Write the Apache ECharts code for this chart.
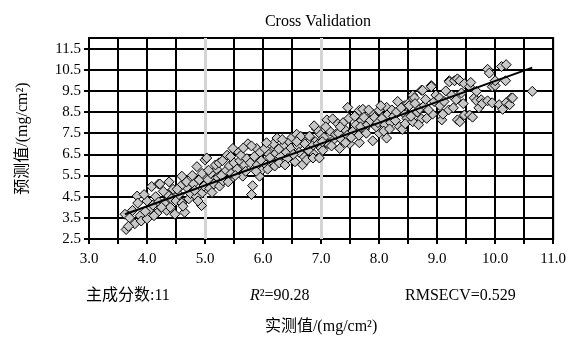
<!DOCTYPE html>
<html>
<head>
<meta charset="utf-8">
<script src="https://cdn.jsdelivr.net/npm/echarts@6/dist/echarts.min.js"></script>
<style>
  html, body { margin: 0; padding: 0; background: #fff; }
  #main { width: 569px; height: 340px; }
</style>
</head>
<body>
<div id="main"></div>
<script>
var dom = document.getElementById("main");
var myChart = echarts.init(dom);

var measured = [
    3.62, 3.64, 3.70, 3.79, 3.75, 3.83, 3.84, 3.68, 3.88, 3.90,
    4.00, 4.00, 4.08, 3.95, 4.05, 4.10, 4.17, 4.15, 4.20, 4.12, 3.97, 4.20,
    4.22, 4.30, 4.34, 4.35, 4.40, 4.45, 4.48, 4.42, 4.28, 4.38, 4.50, 4.25,
    4.60, 4.65, 4.55, 4.60, 4.70, 4.72, 4.58, 4.68, 4.75, 4.62, 4.52,
    4.86, 4.94, 4.94, 4.80, 4.85, 4.90, 4.98, 4.82, 4.78, 4.95, 4.88, 5.00,
    5.03, 5.08, 5.05, 5.10, 5.15, 5.20, 5.12, 5.22, 5.18, 5.25, 5.06, 5.24,
    5.31, 5.38, 5.48, 5.48, 5.35, 5.42, 5.30, 5.45, 5.40, 5.50, 5.28, 5.44,
    5.65, 5.74, 5.55, 5.60, 5.58, 5.68, 5.70, 5.62, 5.72, 5.52, 5.66,
    5.80, 5.82, 5.89, 5.94, 5.99, 5.78, 5.85, 5.90, 5.95, 5.88, 5.80, 5.97,
    6.03, 6.05, 6.10, 6.15, 6.20, 6.08, 6.18, 6.24, 6.12, 6.22, 6.06, 6.20,
    6.30, 6.35, 6.40, 6.28, 6.45, 6.42, 6.33, 6.48, 6.38, 6.50, 6.27,
    6.55, 6.58, 6.68, 6.68, 6.68, 6.60, 6.62, 6.72, 6.52, 6.65, 6.75, 6.58,
    6.80, 6.86, 6.86, 6.97, 6.97, 6.90, 6.85, 6.95, 6.78, 6.92, 7.00, 6.88,
    7.03, 7.10, 7.20, 7.05, 7.12, 7.15, 7.22, 7.08, 7.18, 7.25, 7.02,
    7.29, 7.32, 7.46, 7.49, 7.30, 7.35, 7.40, 7.45, 7.38, 7.42, 7.48, 7.33,
    7.66, 7.72, 7.66, 7.55, 7.60, 7.65, 7.70, 7.58, 7.75, 7.52, 7.68, 7.74,
    7.89, 7.89, 8.00, 8.00, 7.80, 7.85, 7.95, 7.78, 7.92, 7.98, 7.82,
    8.13, 8.13, 8.05, 8.10, 8.15, 8.20, 8.22, 8.08, 8.18, 8.25, 8.03,
    8.30, 8.35, 8.40, 8.44, 8.44, 8.28, 8.38, 8.48, 8.32, 8.50, 8.45,
    8.52, 8.58, 8.58, 8.61, 8.66, 8.73, 8.73, 8.75, 8.55, 8.62, 8.70, 8.68,
    8.78, 8.90, 8.90, 8.92, 8.80, 8.85, 8.95, 8.82, 8.98,
    9.04, 9.08, 9.10, 9.21, 9.21, 9.05, 9.15, 9.20, 9.12, 9.25,
    9.30, 9.33, 9.35, 9.35, 9.39, 9.39, 9.47, 9.47, 9.28, 9.42, 9.45,
    9.56, 9.56, 9.61, 9.64, 9.68, 9.68, 9.58, 9.72,
    9.76, 9.78, 9.87, 9.87, 9.90, 9.95, 9.95, 10.00, 10.00,
    10.07, 10.11, 10.13, 10.18, 10.19, 10.19, 10.25, 10.28, 10.30, 10.64
];
var predicted = [
    3.67, 2.95, 3.50, 3.22, 3.85, 4.53, 4.20, 3.10, 3.60, 3.35,
    3.45, 4.30, 4.98, 4.60, 3.90, 4.10, 3.72, 4.50, 5.10, 3.60, 3.80, 4.25,
    5.10, 4.20, 3.85, 4.60, 4.00, 4.85, 3.67, 4.40, 4.75, 5.20, 4.30, 4.00,
    5.47, 3.76, 4.60, 4.20, 4.90, 4.40, 5.00, 5.20, 4.65, 4.05, 4.85,
    5.92, 4.08, 4.66, 5.10, 4.50, 5.30, 5.00, 4.80, 5.50, 5.60, 4.30, 6.24,
    6.33, 4.89, 5.30, 5.60, 5.10, 5.80, 4.70, 5.40, 6.00, 5.00, 5.75, 6.10,
    5.25, 6.46, 6.78, 5.43, 5.70, 5.95, 6.20, 5.60, 5.20, 6.10, 5.50, 6.40,
    5.47, 7.00, 5.80, 6.20, 6.60, 6.00, 5.70, 6.45, 6.30, 5.50, 6.80,
    4.60, 5.02, 6.78, 5.47, 5.79, 6.10, 6.40, 6.00, 6.60, 5.70, 6.90, 6.20,
    6.78, 6.00, 6.50, 6.20, 6.80, 5.80, 7.00, 7.27, 6.35, 6.55, 7.05, 5.95,
    6.40, 6.90, 6.60, 6.10, 7.10, 6.30, 7.20, 6.80, 6.00, 7.30, 6.75,
    6.15, 7.45, 6.01, 6.46, 7.23, 6.90, 6.60, 7.00, 6.50, 7.35, 6.24, 7.10,
    7.36, 6.55, 6.33, 7.50, 6.33, 7.10, 6.90, 7.00, 6.70, 7.70, 6.80, 7.85,
    6.69, 8.13, 8.18, 7.30, 7.00, 7.60, 7.20, 7.80, 6.90, 7.45, 7.10,
    7.95, 6.78, 8.72, 7.00, 7.50, 7.20, 7.70, 7.40, 8.00, 7.05, 8.20, 7.80,
    8.58, 8.63, 7.05, 7.60, 7.90, 7.40, 8.10, 8.30, 7.70, 7.30, 7.80, 8.25,
    8.40, 7.14, 8.58, 7.50, 7.90, 8.10, 7.80, 7.50, 8.25, 8.00, 8.60,
    7.27, 8.72, 8.20, 7.90, 8.40, 8.00, 8.60, 7.60, 7.70, 8.30, 8.80,
    8.50, 7.81, 7.68, 8.40, 8.80, 8.10, 8.70, 8.20, 9.00, 8.90, 7.95,
    8.80, 9.30, 8.04, 9.17, 8.50, 8.18, 9.53, 9.53, 8.30, 8.90, 8.65, 7.90,
    8.80, 9.75, 9.70, 8.40, 9.10, 8.60, 9.00, 8.20, 9.30,
    9.17, 8.13, 8.40, 9.98, 9.93, 8.80, 9.50, 8.60, 9.00, 9.30,
    9.98, 9.08, 8.13, 10.07, 8.04, 9.98, 9.84, 8.36, 8.70, 9.40, 8.90,
    9.70, 8.36, 8.26, 9.17, 9.48, 9.03, 9.90, 8.70,
    9.08, 8.90, 10.52, 9.03, 10.34, 9.70, 8.94, 9.75, 9.98,
    8.85, 10.65, 8.63, 9.98, 10.74, 8.94, 8.85, 9.17, 9.17, 9.48
];
// 回归线两端
var fitX = [3.62, 10.64];
var fitY = [3.67, 10.60];

var xTicks = ['3.0', '4.0', '5.0', '6.0', '7.0', '8.0', '9.0', '10.0', '11.0'];
var yTicks = ['2.5', '3.5', '4.5', '5.5', '6.5', '7.5', '8.5', '9.5', '10.5', '11.5'];
var grayLines = [5.0, 7.0];

var points = measured.map(function (x, i) { return [x, predicted[i]]; });
var fitLine = fitX.map(function (x, i) { return [x, fitY[i]]; });

var serif = '"Liberation Serif", "Noto Sans CJK SC", serif';

option = {
    backgroundColor: '#fff',
    animation: false,
    title: {
        text: 'Cross Validation',
        left: 313,
        textAlign: 'center',
        top: 9,
        textStyle: { fontFamily: serif, fontSize: 16, fontWeight: 'normal', color: '#000' }
    },
    grid: {
        left: 89, right: 14, top: 38, bottom: 92,
        show: true, borderColor: '#000', borderWidth: 2
    },
    xAxis: {
        type: 'value',
        min: 3, max: 11, interval: 0.5,
        name: '实测值/(mg/cm²)',
        nameLocation: 'middle',
        nameGap: 80,
        nameTextStyle: { fontFamily: serif, fontSize: 16, color: '#000' },
        axisLine: { lineStyle: { color: '#000', width: 2 } },
        axisTick: { length: 5, lineStyle: { color: '#000', width: 2 } },
        axisLabel: {
            margin: 13,
            fontFamily: serif, fontSize: 15, color: '#000',
            formatter: function (v) {
                var s = v.toFixed(1);
                return xTicks.indexOf(s) >= 0 ? s : '';
            }
        },
        splitLine: { show: true, lineStyle: { color: '#000', width: 2 } }
    },
    yAxis: {
        type: 'value',
        min: 2.5, max: 12, interval: 1,
        name: '预测值/(mg/cm²)',
        nameLocation: 'middle',
        nameGap: 58,
        nameTextStyle: { fontFamily: serif, fontSize: 16, color: '#000' },
        axisLine: { show: true, lineStyle: { color: '#000', width: 2 } },
        axisTick: { show: true, length: 5, lineStyle: { color: '#000', width: 2 } },
        axisLabel: {
            showMaxLabel: false, margin: 8,
            fontFamily: serif, fontSize: 15, color: '#000',
            formatter: function (v) {
                var s = v.toFixed(1);
                return yTicks.indexOf(s) >= 0 ? s : '';
            }
        },
        splitLine: { show: true, lineStyle: { color: '#000', width: 2 } }
    },
    graphic: [
        { type: 'text', left: 86, top: 288,
          style: { text: '主成分数:11', font: '16px ' + serif, fill: '#000' } },
        { type: 'text', left: 250, top: 288,
          style: { text: '{i|R}²=90.28', font: '16px ' + serif, fill: '#000',
                   rich: { i: { fontStyle: 'italic', fontFamily: serif, fontSize: 16 } } } },
        { type: 'text', left: 405, top: 288,
          style: { text: 'RMSECV=0.529', font: '16px ' + serif, fill: '#000' } }
    ],
    series: [
        {
            type: 'scatter',
            data: points,
            symbol: 'diamond',
            symbolSize: 10,
            itemStyle: { color: '#c8c8c8', borderColor: '#000', borderWidth: 1, opacity: 1 },
            z: 3,
            markLine: {
                silent: true,
                symbol: 'none',
                label: { show: false },
                lineStyle: { color: '#d4d4d4', width: 3, type: 'solid' },
                data: grayLines.map(function (v) { return { xAxis: v }; }),
                z: 1
            }
        },
        {
            type: 'line',
            data: fitLine,
            showSymbol: false,
            symbol: 'none',
            lineStyle: { color: '#000', width: 2 },
            z: 4
        }
    ]
};
myChart.setOption(option);
</script>
</body>
</html>
